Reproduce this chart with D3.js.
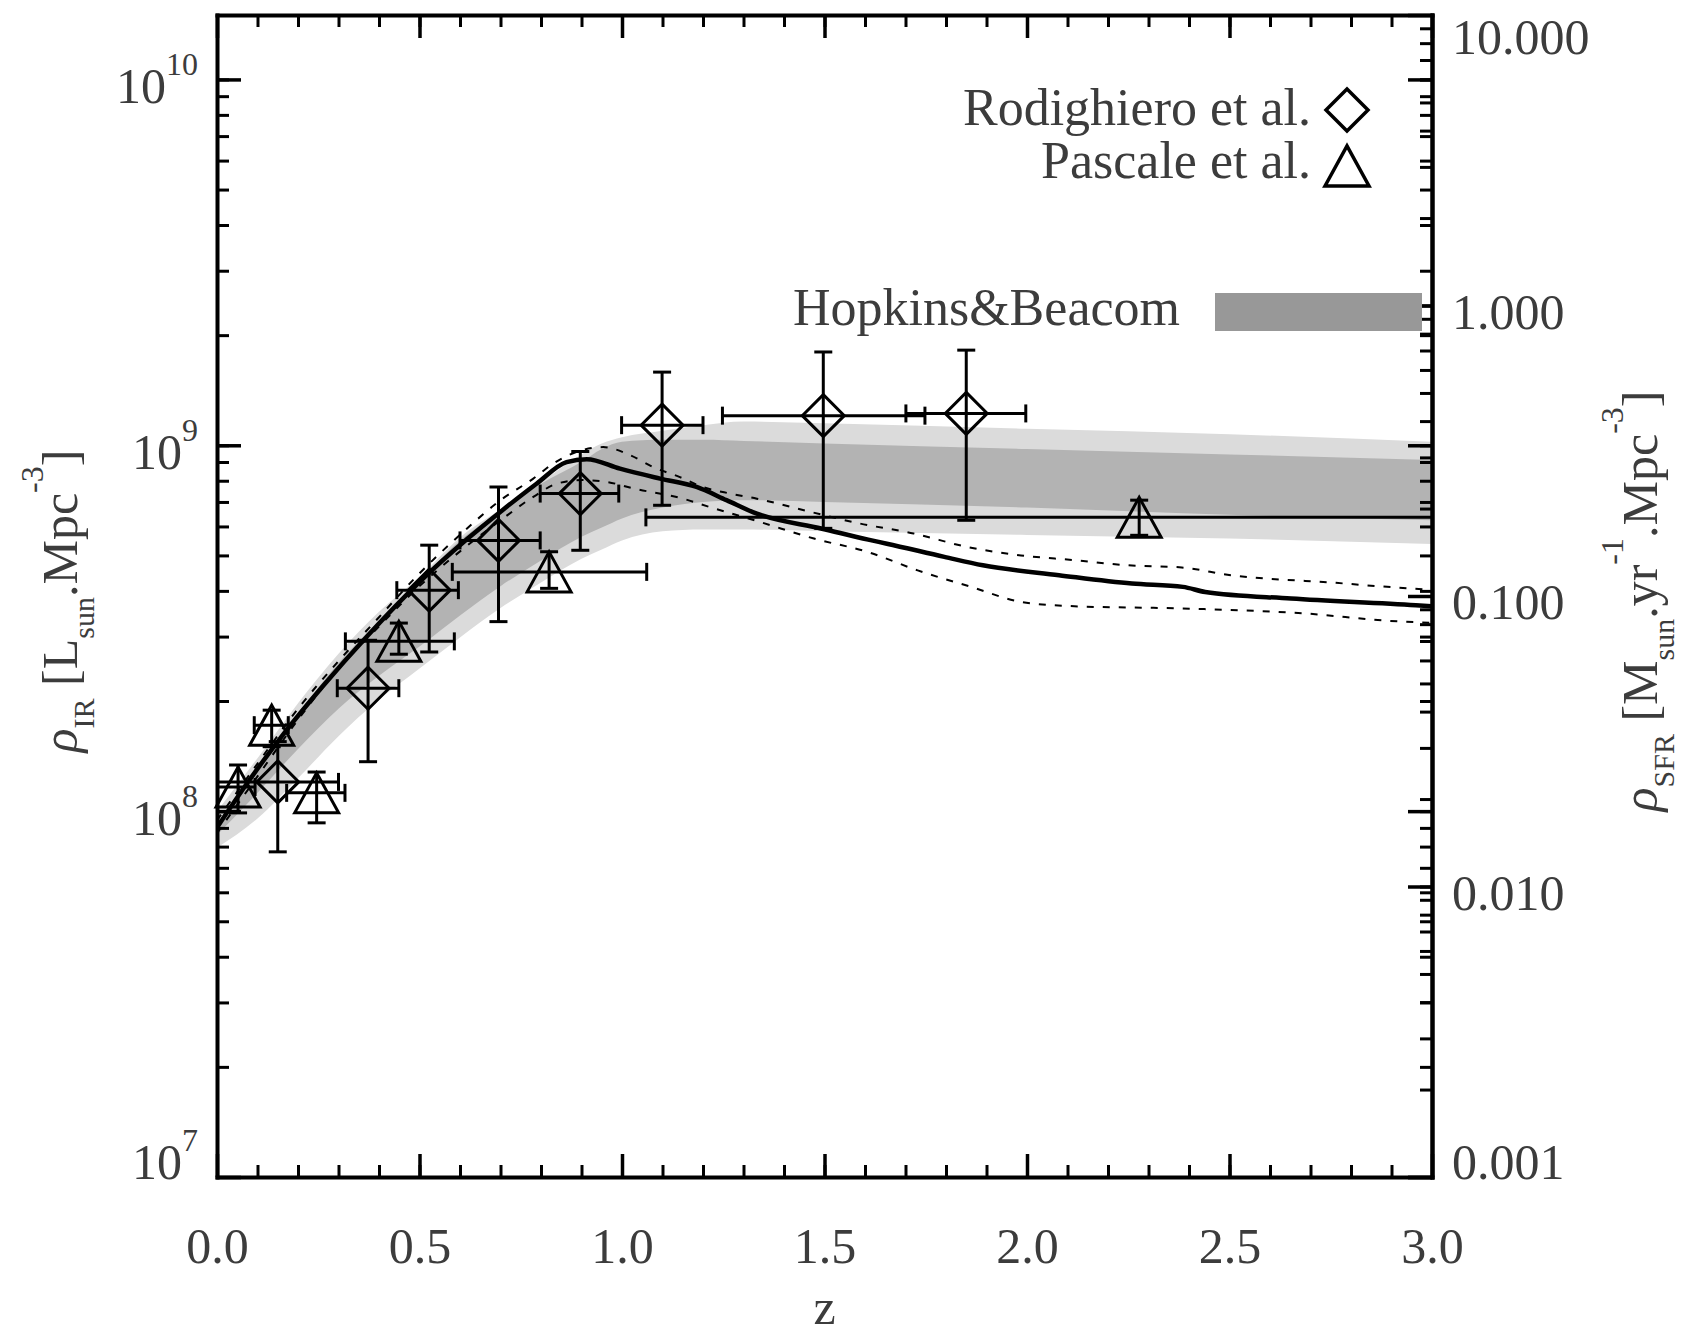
<!DOCTYPE html>
<html>
<head>
<meta charset="utf-8">
<script src="https://cdn.jsdelivr.net/npm/d3@7"></script>
<style>
  body { margin: 0; background: #fff; }
  svg text { font-family: "Liberation Serif", "Times New Roman", serif; fill: #3c3c3c; }
</style>
</head>
<body>
<div id="chart"></div>
<script>
// all densities in Lsun Mpc^-3

// model (solid) and its two dashed bounds
const modelZ   = [0.000, 0.080, 0.165, 0.260, 0.373, 0.496, 0.619, 0.704, 0.789, 0.863, 0.913, 0.995, 1.094, 1.184, 1.258, 1.333, 1.494, 1.608, 1.654, 1.796, 1.891, 2.079, 2.259, 2.385, 2.440, 2.652, 2.960, 3.000];
const modelRho = [9.02e7, 1.216e8, 1.629e8, 2.188e8, 3.027e8, 4.188e8, 5.559e8, 6.637e8, 7.852e8, 8.995e8, 9.162e8, 8.630e8, 8.110e8, 7.691e8, 7.079e8, 6.501e8, 5.916e8, 5.521e8, 5.383e8, 4.955e8, 4.699e8, 4.416e8, 4.188e8, 4.102e8, 3.972e8, 3.811e8, 3.656e8, 3.631e8];

const upperZ   = [0.00, 0.10, 0.20, 0.30, 0.40, 0.50, 0.60, 0.70, 0.781, 0.830, 0.954, 1.020, 1.078, 1.143, 1.200, 1.267, 1.333, 1.465, 1.588, 1.720, 1.853, 1.985, 2.117, 2.249, 2.382, 2.503, 2.763, 2.889, 3.000];
const upperRho = [9.44e7, 1.349e8, 1.905e8, 2.570e8, 3.388e8, 4.467e8, 5.689e8, 7.079e8, 8.110e8, 8.913e8, 9.886e8, 9.397e8, 8.710e8, 8.185e8, 7.691e8, 7.379e8, 7.145e8, 6.577e8, 6.109e8, 5.741e8, 5.272e8, 5.000e8, 4.853e8, 4.699e8, 4.634e8, 4.416e8, 4.207e8, 4.102e8, 4.027e8];

const lowerZ   = [0.00, 0.10, 0.20, 0.30, 0.40, 0.50, 0.60, 0.70, 0.781, 0.839, 0.900, 0.962, 1.028, 1.151, 1.217, 1.342, 1.474, 1.608, 1.730, 1.862, 1.985, 2.117, 2.382, 2.691, 2.896, 3.000];
const lowerRho = [8.71e7, 1.245e8, 1.778e8, 2.455e8, 3.199e8, 4.121e8, 5.129e8, 6.237e8, 7.228e8, 7.852e8, 8.035e8, 7.943e8, 7.621e8, 7.145e8, 6.776e8, 6.166e8, 5.559e8, 5.105e8, 4.550e8, 4.102e8, 3.733e8, 3.631e8, 3.581e8, 3.467e8, 3.311e8, 3.273e8];

// Hopkins & Beacom band (outer light, inner dark)
const bandZ       = [0.0, 0.1, 0.2, 0.3, 0.4, 0.5, 0.6, 0.7, 0.8, 0.9, 0.95, 1.0, 1.1, 1.2, 1.3, 1.5, 2.0, 2.5, 3.0];
const bandOuterHi = [1.000e8, 1.396e8, 1.972e8, 2.692e8, 3.508e8, 4.365e8, 5.598e8, 6.683e8, 7.943e8, 9.441e8, 1.012e9, 1.052e9, 1.096e9, 1.135e9, 1.161e9, 1.148e9, 1.109e9, 1.072e9, 1.023e9];
const bandInnerHi = [9.23e7, 1.288e8, 1.841e8, 2.541e8, 3.311e8, 4.266e8, 5.495e8, 6.607e8, 7.852e8, 9.016e8, 9.772e8, 1.023e9, 1.035e9, 1.035e9, 1.028e9, 1.012e9, 9.772e8, 9.441e8, 9.120e8];
const bandInnerLo = [8.61e7, 1.122e8, 1.479e8, 1.905e8, 2.344e8, 2.818e8, 3.428e8, 4.121e8, 4.842e8, 5.623e8, 5.957e8, 6.310e8, 6.761e8, 6.998e8, 7.079e8, 6.998e8, 6.761e8, 6.457e8, 6.237e8];
const bandOuterLo = [7.94e7, 9.55e7, 1.230e8, 1.603e8, 2.018e8, 2.455e8, 2.985e8, 3.589e8, 4.217e8, 4.898e8, 5.188e8, 5.495e8, 5.821e8, 5.888e8, 5.888e8, 5.821e8, 5.689e8, 5.559e8, 5.370e8];

// Rodighiero et al. (diamonds)
const rodZ      = [0.150, 0.373, 0.524, 0.695, 0.897, 1.099, 1.497, 1.850];
const rodZlo    = [0.000, 0.297, 0.444, 0.600, 0.798, 0.999, 1.248, 1.701];
const rodZhi    = [0.300, 0.449, 0.596, 0.798, 0.992, 1.200, 1.748, 1.997];
const rodRho    = [1.202e8, 2.168e8, 4.018e8, 5.495e8, 7.379e8, 1.135e9, 1.205e9, 1.222e9];
const rodRhoLo  = [7.74e7, 1.365e8, 2.723e8, 3.296e8, 5.164e8, 6.855e8, 5.929e8, 6.237e8];
const rodRhoHi  = [1.549e8, 2.931e8, 5.333e8, 7.691e8, 9.616e8, 1.585e9, 1.799e9, 1.820e9];

// Pascale et al. (triangles)
const pasZ      = [0.052, 0.135, 0.246, 0.449, 0.820, 2.277];
const pasZlo    = [0.000, 0.092, 0.172, 0.317, 0.581, 1.059];
const pasZhi    = [0.094, 0.176, 0.316, 0.586, 1.061, 3.500];
const pasRho    = [1.164e8, 1.718e8, 1.122e8, 2.911e8, 4.508e8, 6.353e8];
const pasRhoLo  = [9.89e7, 1.500e8, 9.29e7, 2.685e8, 4.064e8, 5.675e8];
const pasRhoHi  = [1.337e8, 1.888e8, 1.279e8, 3.266e8, 5.117e8, 7.079e8];

// axis ticks
const xTicks = [0, 0.5, 1.0, 1.5, 2.0, 2.5, 3.0];
const xLabels = ["0.0", "0.5", "1.0", "1.5", "2.0", "2.5", "3.0"];
const yTicks = [1e7, 1e8, 1e9, 1e10];
const yExps = ["7", "8", "9", "10"];
const sfrTicks = [0.001, 0.01, 0.1, 1, 10];
const sfrLabels = ["0.001", "0.010", "0.100", "1.000", "10.000"];

var W = 1682, H = 1336;
var margin = {top: 15, right: 250, bottom: 159, left: 217},
    width = W - margin.left - margin.right,
    height = H - margin.top - margin.bottom;

var svg = d3.select("#chart").append("svg")
    .attr("width", W)
    .attr("height", H);

var g = svg.append("g")
    .attr("transform", "translate(" + margin.left + "," + margin.top + ")");

var x = d3.scaleLinear().domain([0, 3]).range([0, width]);
var y = d3.scaleLog().domain([1e7, 1.5e10]).range([height, 0]);
var y2 = d3.scaleLog().domain([0.001, 10]).range([height, 0]);

g.append("clipPath").attr("id", "clip")
  .append("rect").attr("width", width).attr("height", height);
var plot = g.append("g").attr("clip-path", "url(#clip)");

// bands
function band(lo, hi) {
  return d3.area()
    .x(function(d, i) { return x(bandZ[i]); })
    .y0(function(d, i) { return y(lo[i]); })
    .y1(function(d, i) { return y(hi[i]); })
    .curve(d3.curveMonotoneX);
}
plot.append("path").datum(bandZ)
  .attr("d", band(bandOuterLo, bandOuterHi)).attr("fill", "#dbdbdb");
plot.append("path").datum(bandZ)
  .attr("d", band(bandInnerLo, bandInnerHi)).attr("fill", "#b3b3b3");

// curves
function curve(zs, vals) {
  return d3.line()
    .x(function(d, i) { return x(zs[i]); })
    .y(function(d, i) { return y(vals[i]); })
    .curve(d3.curveMonotoneX)(zs);
}
plot.append("path").attr("d", curve(upperZ, upperRho))
  .attr("fill", "none").attr("stroke", "#000").attr("stroke-width", 2).attr("stroke-dasharray", "7,9");
plot.append("path").attr("d", curve(lowerZ, lowerRho))
  .attr("fill", "none").attr("stroke", "#000").attr("stroke-width", 2).attr("stroke-dasharray", "7,9");
plot.append("path").attr("d", curve(modelZ, modelRho))
  .attr("fill", "none").attr("stroke", "#000").attr("stroke-width", 4.5);

// error bars
function errorBars(zs, zlo, zhi, v, vlo, vhi) {
  var cap = 9;
  var eb = plot.append("g").attr("stroke", "#000").attr("stroke-width", 3);
  zs.forEach(function(z, i) {
    var cx = x(z), cy = y(v[i]);
    eb.append("line").attr("x1", cx).attr("x2", cx).attr("y1", y(vlo[i])).attr("y2", y(vhi[i]));
    eb.append("line").attr("x1", cx - cap).attr("x2", cx + cap).attr("y1", y(vlo[i])).attr("y2", y(vlo[i]));
    eb.append("line").attr("x1", cx - cap).attr("x2", cx + cap).attr("y1", y(vhi[i])).attr("y2", y(vhi[i]));
    eb.append("line").attr("x1", x(zlo[i])).attr("x2", x(zhi[i])).attr("y1", cy).attr("y2", cy);
    eb.append("line").attr("x1", x(zlo[i])).attr("x2", x(zlo[i])).attr("y1", cy - cap).attr("y2", cy + cap);
    eb.append("line").attr("x1", x(zhi[i])).attr("x2", x(zhi[i])).attr("y1", cy - cap).attr("y2", cy + cap);
  });
}
errorBars(rodZ, rodZlo, rodZhi, rodRho, rodRhoLo, rodRhoHi);
errorBars(pasZ, pasZlo, pasZhi, pasRho, pasRhoLo, pasRhoHi);

// symbols
function diamond(cx, cy) {
  var r = 21;
  return "M" + cx + "," + (cy - r) + "L" + (cx + r) + "," + cy + "L" + cx + "," + (cy + r) + "L" + (cx - r) + "," + cy + "Z";
}
function triangle(cx, cy) {
  var w = 22, h = 20;
  return "M" + (cx - w) + "," + (cy + h) + "L" + cx + "," + (cy - h) + "L" + (cx + w) + "," + (cy + h) + "Z";
}
g.selectAll(".rod").data(rodZ).enter().append("path")
  .attr("d", function(d, i) { return diamond(x(d), y(rodRho[i])); })
  .attr("fill", "none").attr("stroke", "#000").attr("stroke-width", 3);
g.selectAll(".pas").data(pasZ).enter().append("path")
  .attr("d", function(d, i) { return triangle(x(d), y(pasRho[i])); })
  .attr("fill", "none").attr("stroke", "#000").attr("stroke-width", 3).attr("stroke-linejoin", "miter");

// axes
function style(sel, labels) {
  sel.attr("font-family", null).attr("font-size", null);
  sel.select(".domain").attr("stroke-width", 4).attr("stroke-linecap", "square");
  sel.selectAll(".tick line").attr("stroke-width", 3.5);
  sel.selectAll(".tick text").attr("font-size", 50);
  if (!labels) sel.selectAll(".tick text").remove();
}
function minor(sel) {
  sel.select(".domain").remove();
  sel.selectAll(".tick line").attr("stroke-width", 3);
  sel.selectAll(".tick text").remove();
}

// x minor ticks, bottom and top
g.append("g").attr("transform", "translate(0," + height + ")")
  .call(d3.axisBottom(x).ticks(30).tickSize(-12).tickSizeOuter(0)).call(minor);
g.append("g")
  .call(d3.axisTop(x).ticks(30).tickSize(-12).tickSizeOuter(0)).call(minor);
// y minor ticks on both sides
g.append("g").call(d3.axisLeft(y).tickSize(-12).tickSizeOuter(0)).call(minor);
g.append("g").attr("transform", "translate(" + width + ",0)")
  .call(d3.axisRight(y).tickSize(-12).tickSizeOuter(0)).call(minor);
g.append("g").attr("transform", "translate(" + width + ",0)")
  .call(d3.axisRight(y2).tickSize(-12).tickSizeOuter(0)).call(minor);

var xb = g.append("g").attr("transform", "translate(0," + height + ")")
  .call(d3.axisBottom(x).tickValues(xTicks).tickSize(-23).tickSizeOuter(0).tickPadding(50)
    .tickFormat(function(d, i) { return xLabels[i]; }))
  .call(style, true);

g.append("g")
  .call(d3.axisTop(x).tickValues(xTicks).tickSize(-23).tickSizeOuter(0))
  .call(style, false);

var yl = g.append("g")
  .call(d3.axisLeft(y).tickValues(yTicks).tickSize(-24).tickSizeOuter(0).tickPadding(19).tickFormat(""))
  .call(style, true);
yl.selectAll(".tick text").each(function(d, i) {
  var t = d3.select(this);
  t.attr("dy", i === 0 ? "0.02em" : "0.46em");
  t.append("tspan").text("10");
  t.append("tspan").attr("dy", -28).attr("font-size", 32).text(yExps[i]);
});

g.append("g").attr("transform", "translate(" + width + ",0)")
  .call(d3.axisRight(y).tickValues(yTicks).tickSize(-24).tickSizeOuter(0))
  .call(style, false);

var yr = g.append("g").attr("transform", "translate(" + width + ",0)")
  .call(d3.axisRight(y2).tickValues(sfrTicks).tickSize(-24).tickSizeOuter(0).tickPadding(20)
    .tickFormat(function(d, i) { return sfrLabels[i]; }))
  .call(style, true);
yr.selectAll(".tick text").attr("dy", function(d, i) {
  if (i === 0) return "0.02em";
  if (i === sfrTicks.length - 1) return "0.76em";
  return "0.45em";
});

// axis titles
svg.append("text")
  .attr("x", margin.left + width / 2).attr("y", 1324)
  .attr("text-anchor", "middle").attr("font-size", 50).text("z");

var lt = svg.append("text")
  .attr("transform", "translate(77,601) rotate(-90)")
  .attr("text-anchor", "middle").attr("font-size", 50);
lt.append("tspan").attr("font-style", "italic").text("\u03C1");
lt.append("tspan").attr("font-size", 30).attr("dy", 17).text("IR");
lt.append("tspan").attr("dy", -17).text(" [L");
lt.append("tspan").attr("font-size", 30).attr("dy", 17).text("sun");
lt.append("tspan").attr("dy", -17).text(".Mpc");
lt.append("tspan").attr("font-size", 32).attr("dy", -34).text("-3");
lt.append("tspan").attr("dy", 34).text("]");

var rt = svg.append("text")
  .attr("transform", "translate(1657,601) rotate(-90)")
  .attr("text-anchor", "middle").attr("font-size", 50);
rt.append("tspan").attr("font-style", "italic").text("\u03C1");
rt.append("tspan").attr("font-size", 30).attr("dy", 17).text("SFR");
rt.append("tspan").attr("dy", -17).text(" [M");
rt.append("tspan").attr("font-size", 30).attr("dy", 17).text("sun");
rt.append("tspan").attr("dy", -17).text(".yr");
rt.append("tspan").attr("font-size", 32).attr("dy", -34).text("-1");
rt.append("tspan").attr("dy", 34).text(".Mpc");
rt.append("tspan").attr("font-size", 32).attr("dy", -34).text("-3");
rt.append("tspan").attr("dy", 34).text("]");

// legend
svg.append("text").attr("x", 1311).attr("y", 125).attr("text-anchor", "end")
  .attr("font-size", 52).text("Rodighiero et al.");
svg.append("path").attr("d", diamond(1347, 110))
  .attr("fill", "none").attr("stroke", "#000").attr("stroke-width", 3.5);
svg.append("text").attr("x", 1311).attr("y", 178).attr("text-anchor", "end")
  .attr("font-size", 52).text("Pascale et al.");
svg.append("path").attr("d", triangle(1347, 166))
  .attr("fill", "none").attr("stroke", "#000").attr("stroke-width", 3.5);
svg.append("text").attr("x", 1180).attr("y", 325).attr("text-anchor", "end")
  .attr("font-size", 52).text("Hopkins&Beacom");
svg.append("rect").attr("x", 1215).attr("y", 293).attr("width", 207).attr("height", 38)
  .attr("fill", "#989898");
</script>
</body>
</html>
